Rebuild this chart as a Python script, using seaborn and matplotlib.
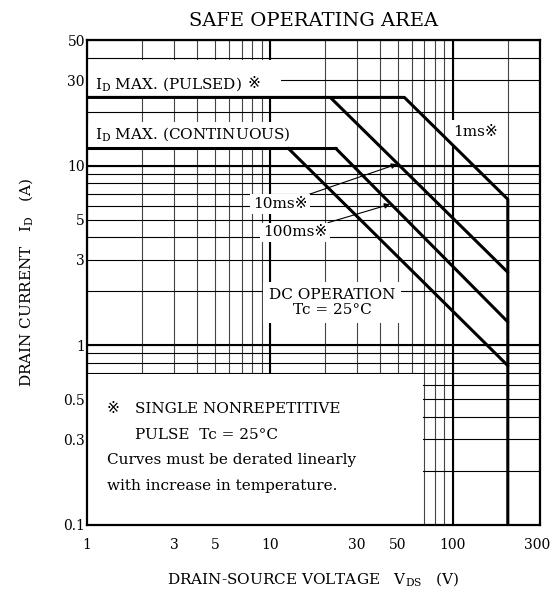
import numpy as np
import pandas as pd
import matplotlib
matplotlib.use('Agg')
import matplotlib.pyplot as plt
import matplotlib.ticker as mticker
from matplotlib.patches import Rectangle
from matplotlib.transforms import ScaledTranslation
import seaborn as sns

# SOA boundary lines (V_DS in V, I_D in A)
pulsed_vds = [1, 54.4, 200, 200]      # I_D max (pulsed) -> 1 ms -> V_DSS limit
pulsed_id = [24, 24, 6.5, 0.1]
ms10_vds = [21.4, 200]
ms10_id = [24, 2.55]
cont_vds = [1, 22.9]
cont_id = [12.5, 12.5]
ms100_vds = [22.9, 200]
ms100_id = [12.5, 1.35]
dc_vds = [12.6, 200]
dc_id = [12.5, 0.77]

x_ticks = [1, 3, 5, 10, 30, 50, 100, 300]
x_labels = ['1', '3', '5', '10', '30', '50', '100', '300']
y_ticks = [0.1, 0.3, 0.5, 1, 3, 5, 10, 30, 50]
y_labels = ['0.1', '0.3', '0.5', '1', '3', '5', '10', '30', '50']

curves = {
    '1ms': (pulsed_vds, pulsed_id),
    '10ms': (ms10_vds, ms10_id),
    'cont': (cont_vds, cont_id),
    '100ms': (ms100_vds, ms100_id),
    'dc': (dc_vds, dc_id),
}
df = pd.concat([pd.DataFrame({'vds': v, 'id': i, 'curve': name})
                for name, (v, i) in curves.items()], ignore_index=True)

sns.set_style('white')
plt.rcParams['font.family'] = ['DejaVu Serif', 'DejaVu Sans', 'Noto Sans CJK JP']
plt.rcParams['mathtext.fontset'] = 'dejavuserif'
plt.rcParams['text.color'] = 'black'
plt.rcParams['axes.labelcolor'] = 'black'
plt.rcParams['xtick.color'] = 'black'
plt.rcParams['ytick.color'] = 'black'

fig, ax = plt.subplots(figsize=(5.51, 5.91), dpi=100)
fig.subplots_adjust(left=0.158, right=0.980, bottom=0.112, top=0.932)

ax.set_xscale('log')
ax.set_yscale('log')
ax.set_xlim(1, 300)
ax.set_ylim(0.1, 50)

sns.lineplot(data=df, x='vds', y='id', units='curve', estimator=None, sort=False,
             color='black', lw=2.2, ax=ax, zorder=5)

# grid
ax.set_axisbelow(True)
ax.xaxis.set_minor_locator(mticker.LogLocator(base=10, subs=np.arange(1, 10), numticks=20))
ax.yaxis.set_minor_locator(mticker.LogLocator(base=10, subs=np.arange(1, 10), numticks=20))
ax.set_xticks(x_ticks, x_labels)
ax.set_yticks(y_ticks, y_labels)
ax.xaxis.set_minor_formatter(mticker.NullFormatter())
ax.yaxis.set_minor_formatter(mticker.NullFormatter())
ax.grid(which='both', axis='x', color='#444444', lw=0.8)
ax.grid(which='both', axis='y', color='#000000', lw=0.8)
for v in [10, 100]:
    ax.axvline(v, color='black', lw=1.5, zorder=1)
for v in [1, 10]:
    ax.axhline(v, color='black', lw=1.5, zorder=1)

ax.tick_params(which='both', length=0)
ax.tick_params(axis='x', pad=9.5, labelsize=10)
ax.tick_params(axis='y', pad=1.5, labelsize=10)

# keep the "300" label inside the picture
last = ax.get_xticklabels()[-1]
last.set_ha('right')
last.set_transform(last.get_transform() + ScaledTranslation(10 / 100, 0, fig.dpi_scale_trans))

for s in ax.spines.values():
    s.set_color('black')
    s.set_linewidth(1.6)
    s.set_zorder(6)

# white areas behind labels
ax.add_patch(Rectangle((1, 24), 10.5, 15, facecolor='white', edgecolor='none', zorder=2))
ax.add_patch(Rectangle((1, 12.5), 16.5, 5.1, facecolor='white', edgecolor='none', zorder=2))
ax.add_patch(Rectangle((1, 0.1), 68, 0.59, facecolor='white', edgecolor='none', zorder=2))

box = dict(facecolor='white', edgecolor='none', pad=2)

t = ax.text(1.1, 28.6, r'I$_{\mathrm{D}}$ MAX. (PULSED)', fontsize=11,
            ha='left', va='center', zorder=3)
ax.annotate('※', xy=(1, 0.5), xycoords=t, xytext=(4, 0), textcoords='offset points',
            ha='left', va='center', fontsize=11, zorder=3)
ax.text(1.1, 15, r'I$_{\mathrm{D}}$ MAX. (CONTINUOUS)', fontsize=11,
        ha='left', va='center', zorder=3)

ax.text(134, 15.4, '1ms※', fontsize=11, ha='center', va='center',
        bbox=dict(facecolor='white', edgecolor='none', pad=4), zorder=3)

arrow = dict(arrowstyle='-|>', color='black', lw=0.8, mutation_scale=8,
             shrinkA=0, shrinkB=0)
ax.annotate('10ms※', xy=(49.5, 10.2), xytext=(11.4, 6.1), fontsize=11,
            ha='center', va='center', bbox=box, arrowprops=arrow, zorder=3)
ax.annotate('100ms※', xy=(45.4, 6.1), xytext=(13.75, 4.25), fontsize=11,
            ha='center', va='center', bbox=box, arrowprops=arrow, zorder=3)

ax.text(21.9, 1.73, 'DC OPERATION\nTc = 25°C', fontsize=11, ha='center', va='center',
        linespacing=1.1, bbox=dict(facecolor='white', edgecolor='none', pad=4), zorder=3)

ax.text(0.044, 0.2386, '※', transform=ax.transAxes, fontsize=11, va='center', zorder=3)
ax.text(0.1066, 0.2386, 'SINGLE NONREPETITIVE', transform=ax.transAxes, fontsize=11,
        va='center', zorder=3)
ax.text(0.1066, 0.1856, 'PULSE  Tc = 25°C', transform=ax.transAxes, fontsize=11,
        va='center', zorder=3)
ax.text(0.044, 0.134, 'Curves must be derated linearly', transform=ax.transAxes,
        fontsize=11, va='center', zorder=3)
ax.text(0.044, 0.0804, 'with increase in temperature.', transform=ax.transAxes,
        fontsize=11, va='center', zorder=3)

ax.set_title('SAFE OPERATING AREA', fontsize=14, pad=10)
ax.set_xlabel(r'DRAIN-SOURCE VOLTAGE   V$_{\mathrm{DS}}$   (V)', fontsize=11)
ax.set_ylabel(r'DRAIN CURRENT   I$_{\mathrm{D}}$   (A)', fontsize=11)
ax.xaxis.set_label_coords(0.5, -0.093)
ax.yaxis.set_label_coords(-0.115, 0.5)

plt.savefig('out.png', dpi=100)
